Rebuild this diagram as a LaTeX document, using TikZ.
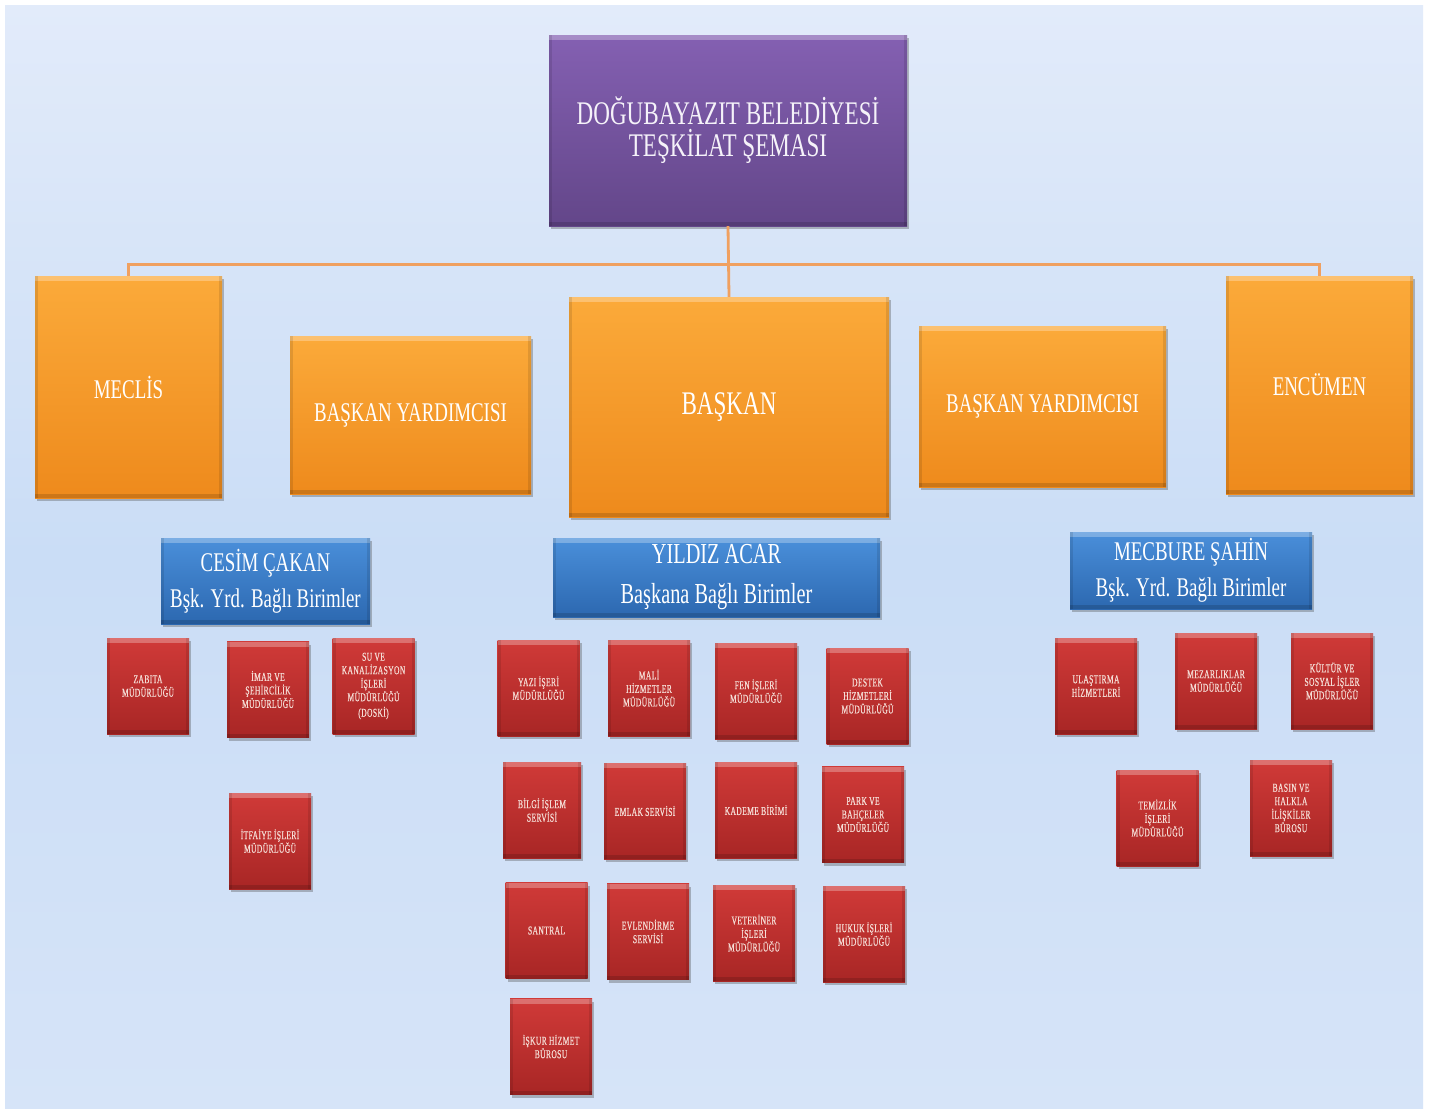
\documentclass[tikz,border=0pt]{standalone}
\usepackage{fontspec}
\setmainfont{Liberation Serif}
\newfontfamily\condf[FakeStretch=0.7]{Liberation Serif}
\newfontfamily\redf[FakeStretch=0.63,LetterSpace=3,FakeBold=0.6]{Liberation Serif}
\usetikzlibrary{shadows}
\definecolor{bgtop}{HTML}{E2EBFA}
\definecolor{bgmid}{HTML}{CADDF6}
\definecolor{bgbot}{HTML}{D6E4F8}
\definecolor{purtop}{HTML}{8460B2}
\definecolor{purbot}{HTML}{634689}
\definecolor{ortop}{HTML}{FBAA3A}
\definecolor{orbot}{HTML}{EE8A1C}
\definecolor{bltop}{HTML}{4A8FDA}
\definecolor{blbot}{HTML}{2C68B0}
\definecolor{rdtop}{HTML}{D03A38}
\definecolor{rdbot}{HTML}{A82625}
\definecolor{conncol}{HTML}{F0A060}
\definecolor{redtext}{HTML}{F5DDD6}
\begin{document}
\begin{tikzpicture}[x=1pt,y=-1pt,
  box/.style={draw=none, inner sep=1pt, align=center,
    drop shadow={shadow xshift=2pt,shadow yshift=-3pt,opacity=0.35,fill=black!70},
    path picture={
      \fill[white,opacity=0.28] (path picture bounding box.north west) rectangle ([yshift=-5pt]path picture bounding box.north east);
      \fill[black,opacity=0.14] (path picture bounding box.south west) rectangle ([yshift=4pt]path picture bounding box.south east);
      \fill[black,opacity=0.10] (path picture bounding box.south west) rectangle ([xshift=3pt]path picture bounding box.north west);
      \fill[black,opacity=0.10] (path picture bounding box.south east) rectangle ([xshift=-3pt]path picture bounding box.north east);
    }},
  titlebox/.style={box, top color=purtop, bottom color=purbot, text=white!92!purtop,
    font=\condf\fontsize{33}{34}\selectfont},
  orbox/.style={box, top color=ortop, bottom color=orbot, text=white,
    font=\condf\fontsize{27}{30}\selectfont},
  blbox/.style={box, top color=bltop, bottom color=blbot, text=white,
    font=\condf\fontsize{27}{36}\selectfont},
  rdbox/.style={box, top color=rdtop, bottom color=rdbot, text=redtext,
    minimum width=82pt, minimum height=96pt,
    font=\redf\fontsize{12}{13.5}\selectfont},
  conn/.style={draw=conncol, line width=2.8pt}
]
\useasboundingbox (0,0) rectangle (1431,1112);
\fill[white] (0,0) rectangle (1431,1112);
\shade[top color=bgtop, bottom color=bgbot, middle color=bgmid] (5,5) rectangle (1423,1108);

% title
\node[titlebox, minimum width=358pt, minimum height=191pt] (title) at (728,130.5)
  {DOĞUBAYAZIT BELEDİYESİ\\[-2pt]TEŞKİLAT ŞEMASI};

% orange level
\node[orbox, minimum width=187pt, minimum height=222pt] (meclis) at (128.5,387) {MECLİS};
\node[orbox, minimum width=241pt, minimum height=158pt] (byl) at (410.5,415) {BAŞKAN YARDIMCISI};
\node[orbox, minimum width=320pt, minimum height=220pt, font=\condf\fontsize{33}{36}\selectfont] (baskan) at (729,407) {BAŞKAN};
\node[orbox, minimum width=247pt, minimum height=161pt] (byr) at (1042.5,406.5) {BAŞKAN YARDIMCISI};
\node[orbox, minimum width=187pt, minimum height=218pt] (encumen) at (1319.5,385) {ENCÜMEN};

% connectors
\draw[conn] (title.south) -- (baskan.north);
\draw[conn] (meclis.north) -- ++(0,-11) -| (encumen.north);

% blue level
\node[blbox, minimum width=209pt, minimum height=86pt] (cesim) at (265.5,581)
  {CESİM ÇAKAN\\Bşk. Yrd. Bağlı Birimler};
\node[blbox, minimum width=327pt, minimum height=79pt, font=\condf\fontsize{29}{40}\selectfont] (yildiz) at (716.5,577.5)
  {YILDIZ ACAR\\Başkana Bağlı Birimler};
\node[blbox, minimum width=242pt, minimum height=77pt] (mecbure) at (1191,570.5)
  {MECBURE ŞAHİN\\Bşk. Yrd. Bağlı Birimler};

% left group
\node[rdbox] (zabita) at (148,686) {ZABITA\\MÜDÜRLÜĞÜ};
\node[rdbox] (imar) at (268,689.5) {İMAR VE\\ŞEHİRCİLİK\\MÜDÜRLÜĞÜ};
\node[rdbox] (su) at (373.5,686) {SU VE\\KANALİZASYON\\İŞLERİ\\MÜDÜRLÜĞÜ\\[2pt](DOSKİ)};
\node[rdbox] (itfaiye) at (270,841) {İTFAİYE İŞLERİ\\MÜDÜRLÜĞÜ};

% center group
\node[rdbox] (yazi) at (538.5,688) {YAZI İŞERİ\\MÜDÜRLÜĞÜ};
\node[rdbox] (mali) at (649,688) {MALİ\\HİZMETLER\\MÜDÜRLÜĞÜ};
\node[rdbox] (fen) at (756,691) {FEN İŞLERİ\\MÜDÜRLÜĞÜ};
\node[rdbox] (destek) at (867.5,696) {DESTEK\\HİZMETLERİ\\MÜDÜRLÜĞÜ};
\node[rdbox, minimum width=78pt] (bilgi) at (542,810) {BİLGİ İŞLEM\\SERVİSİ};
\node[rdbox] (emlak) at (645,811) {EMLAK SERVİSİ};
\node[rdbox] (kademe) at (756,810) {KADEME BİRİMİ};
\node[rdbox] (park) at (863,814.5) {PARK VE\\BAHÇELER\\MÜDÜRLÜĞÜ};
\node[rdbox] (santral) at (546.5,930.5) {SANTRAL};
\node[rdbox] (evlendirme) at (648,931.5) {EVLENDİRME\\SERVİSİ};
\node[rdbox] (veteriner) at (754,933) {VETERİNER\\İŞLERİ\\MÜDÜRLÜĞÜ};
\node[rdbox] (hukuk) at (864,934) {HUKUK İŞLERİ\\MÜDÜRLÜĞÜ};
\node[rdbox] (iskur) at (551,1046.5) {İŞKUR HİZMET\\BÜROSU};

% right group
\node[rdbox] (ulastirma) at (1096,686) {ULAŞTIRMA\\HİZMETLERİ};
\node[rdbox] (mezarliklar) at (1216,681) {MEZARLIKLAR\\MÜDÜRLÜĞÜ};
\node[rdbox] (kultur) at (1332,681) {KÜLTÜR VE\\SOSYAL İŞLER\\MÜDÜRLÜĞÜ};
\node[rdbox] (temizlik) at (1157.5,818) {TEMİZLİK\\İŞLERİ\\MÜDÜRLÜĞÜ};
\node[rdbox] (basin) at (1291,808) {BASIN VE\\HALKLA\\İLİŞKİLER\\BÜROSU};
\end{tikzpicture}
\end{document}
